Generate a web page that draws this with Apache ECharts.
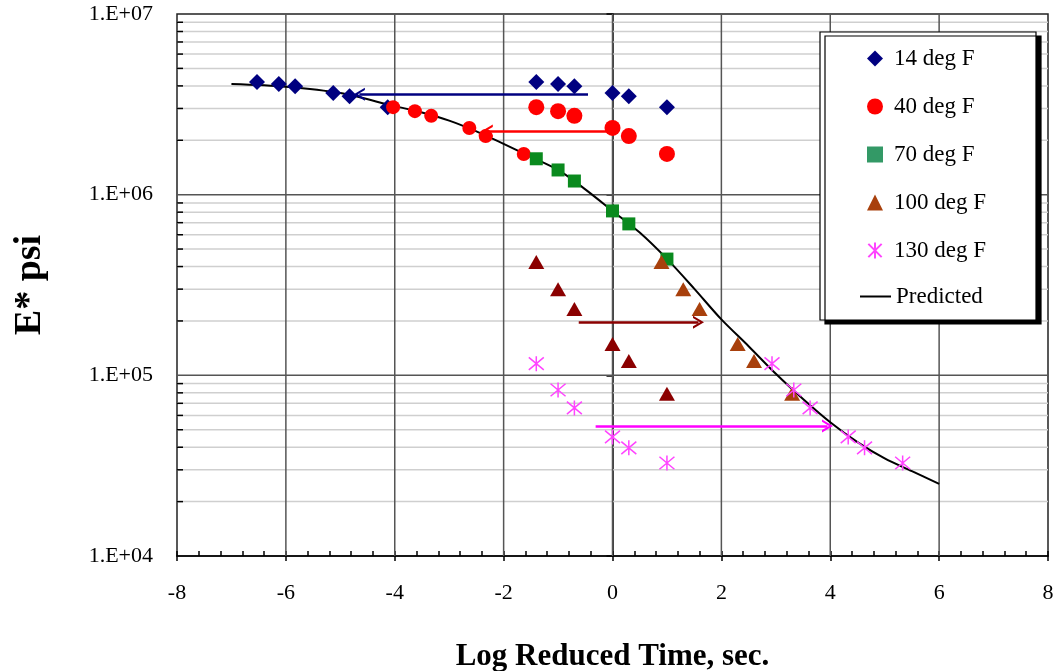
<!DOCTYPE html>
<html>
<head>
<meta charset="utf-8">
<script src="https://cdn.jsdelivr.net/npm/echarts@6/dist/echarts.min.js"></script>
<style>html,body{margin:0;padding:0;background:#fff}#c{width:1057px;height:671px}</style>
</head>
<body>
<div id="c"></div>
<script>
// ---- data ----
const timeLog = [-1.4, -1.0, -0.7, 0.0, 0.3, 1.0];          // unshifted log time
const x14s = [-6.53, -6.13, -5.83, -5.13, -4.83, -4.13];   // shifted
const x40s = [-4.03, -3.63, -3.33, -2.63, -2.33, -1.63];
const x100s = [0.9, 1.3, 1.6, 2.3, 2.6, 3.3];
const x130s = [2.93, 3.33, 3.63, 4.33, 4.63, 5.33];

const e14 = [4.2e6, 4.1e6, 3.98e6, 3.65e6, 3.5e6, 3.05e6];
const e40 = [3.05e6, 2.9e6, 2.73e6, 2.34e6, 2.11e6, 1.68e6];
const e70 = [1.58e6, 1.37e6, 1.19e6, 8.13e5, 6.89e5, 4.4e5];
const e100 = [4.24e5, 3.0e5, 2.33e5, 1.49e5, 1.2e5, 7.9e4];
const e130 = [1.16e5, 8.3e4, 6.6e4, 4.56e4, 3.97e4, 3.27e4];

const predX = [-7, -6, -5, -4, -3.5, -3, -2.5, -2, -1.5, -1, -0.5, 0, 0.5, 1, 1.5, 2, 2.5, 3, 3.5, 4, 4.5, 5, 5.5, 6];
const predE = [4.10e6, 3.96e6, 3.65e6, 3.09e6, 2.85e6, 2.57e6, 2.24e6, 1.91e6, 1.62e6, 1.37e6, 1.07e6, 8.13e5, 6.17e5, 4.41e5, 3.02e5, 2.04e5, 1.45e5, 1.02e5, 7.4e4, 5.5e4, 4.27e4, 3.47e4, 2.95e4, 2.51e4];

const arrow14 = [[-0.45, 3.6e6], [-4.65, 3.6e6]];
const arrow40 = [[0.0, 2.25e6], [-2.3, 2.25e6]];
const arrow100 = [[-0.62, 1.97e5], [1.58, 1.97e5]];
const arrow130 = [[-0.31, 5.25e4], [3.95, 5.25e4]];

const legendNames = ['14 deg F', '40 deg F', '70 deg F', '100 deg F', '130 deg F', 'Predicted'];
const yTickLabels = {4: '1.E+04', 5: '1.E+05', 6: '1.E+06', 7: '1.E+07'};
const decades = [1e4, 1e5, 1e6];
const multiples = [2, 3, 4, 5, 6, 7, 8, 9];
const xMajor = [-6, -4, -2, 0, 2, 4, 6];

// ---- helpers ----
const zip = (xs, ys) => xs.map((x, i) => [x, ys[i]]);
const minorY = [];
decades.forEach(d => multiples.forEach(m => minorY.push(d * m)));
const gridItems = [];
minorY.forEach(v => gridItems.push({k: 'h', v}));
xMajor.forEach(v => gridItems.push({k: 'v', v}));
[1e5, 1e6].forEach(v => gridItems.push({k: 'H', v}));

const SERIF = 'Liberation Serif';
const chevron = 'path://M5,0 L10,10 L8.2,10 L5,3.6 L1.8,10 L0,10 Z';
const asterisk = 'path://M0,0 L10,10 M10,0 L0,10 M5,-1 L5,11';

function arrowLine(pts, color, w) {
  return {
    silent: true,
    symbol: ['none', chevron],
    symbolSize: [13, 11],
    lineStyle: {color: color, width: w, type: 'solid', opacity: 1},
    label: {show: false},
    emphasis: {disabled: true},
    data: [[{coord: pts[0]}, {coord: pts[1]}]]
  };
}

const legendText = {fontFamily: SERIF, fontSize: 23, color: '#000', lineHeight: 21};

const chart = echarts.init(document.getElementById('c'));
chart.setOption({
  animation: false,
  backgroundColor: '#ffffff',
  grid: {left: 177, right: 9, top: 14, bottom: 115, show: true, borderColor: '#222', borderWidth: 1.5,
    backgroundColor: 'transparent', outerBoundsMode: 'none', containLabel: false},
  xAxis: [{
    type: 'value', min: -8, max: 8, interval: 2,
    name: 'Log Reduced Time, sec.', nameLocation: 'middle', nameGap: 85,
    nameTextStyle: {fontFamily: SERIF, fontWeight: 'bold', fontSize: 31, color: '#000'},
    axisLine: {show: true, lineStyle: {color: '#000', width: 1.5}},
    axisTick: {show: true, inside: false, length: 5, lineStyle: {color: '#000', width: 1.5}},
    axisLabel: {fontFamily: SERIF, fontSize: 22, color: '#000', margin: 26},
    splitLine: {show: false}
  }, {
    type: 'value', min: -8, max: 8, interval: 2, position: 'bottom', offset: 0,
    axisLine: {show: false},
    axisTick: {show: true, inside: true, length: 5, lineStyle: {color: '#000', width: 1.5}},
    minorTick: {show: true, splitNumber: 5, length: 5, lineStyle: {color: '#000', width: 1.5}},
    axisLabel: {show: false},
    splitLine: {show: false}
  }],
  yAxis: {
    type: 'log', logBase: 10, min: 1e4, max: 1e7, interval: 1,
    name: 'E* psi', nameLocation: 'middle', nameGap: 128,
    nameTextStyle: {fontFamily: SERIF, fontWeight: 'bold', fontSize: 38, color: '#000'},
    axisLine: {show: true, lineStyle: {color: '#000', width: 1.5}},
    axisTick: {show: true, inside: false, length: 6, lineStyle: {color: '#000', width: 1.5}},
    minorTick: {show: false},
    axisLabel: {fontFamily: SERIF, fontSize: 22, color: '#000', margin: 24,
      formatter: v => yTickLabels[Math.round(Math.log10(v))] || ''},
    splitLine: {show: false}
  },
  legend: [{
    orient: 'vertical', left: 820, top: 32, z: 4,
    data: [
      {name: legendNames[0]}, {name: legendNames[1]},
      {name: legendNames[2], itemStyle: {color: '#339966'}},
      {name: legendNames[3]}, {name: legendNames[4]}
    ],
    itemWidth: 16, itemHeight: 16, itemGap: 25,
    padding: [15, 50, 58, 47],
    textStyle: Object.assign({padding: [0, 0, 0, 6]}, legendText),
    backgroundColor: '#fff', borderColor: '#000', borderWidth: 1.2,
    shadowColor: '#000', shadowBlur: 0, shadowOffsetX: 5, shadowOffsetY: 4,
    selectedMode: false
  }, {
    orient: 'vertical', left: 859, top: 285, z: 6,
    data: [{name: legendNames[5], itemStyle: {color: 'rgba(0,0,0,0)', borderWidth: 0}}],
    itemWidth: 31, itemHeight: 14, padding: 0,
    textStyle: legendText,
    selectedMode: false
  }],
  series: [
    {
      name: 'grid', type: 'custom', silent: true, z: 1,
      data: gridItems.map((g, i) => [i]),
      encode: {x: -1, y: -1},
      renderItem: (params, api) => {
        const g = gridItems[params.dataIndex];
        let a, b, stroke, lw;
        if (g.k === 'v') { a = api.coord([g.v, 1e4]); b = api.coord([g.v, 1e7]); stroke = '#555'; lw = 1.5; }
        else if (g.k === 'H') { a = api.coord([-8, g.v]); b = api.coord([8, g.v]); stroke = '#555'; lw = 1.5; }
        else { a = api.coord([-8, g.v]); b = api.coord([8, g.v]); stroke = '#cfcfcf'; lw = 1.5; }
        const children = [{type: 'line', shape: {x1: a[0], y1: a[1], x2: b[0], y2: b[1]}, style: {stroke, lineWidth: lw}}];
        if (g.k === 'h') {
          children.push({type: 'line', shape: {x1: a[0], y1: a[1], x2: a[0] + 6, y2: a[1]}, style: {stroke: '#000', lineWidth: 1.5}});
        }
        return {type: 'group', children};
      }
    },
    {
      name: 'Predicted', type: 'line', data: zip(predX, predE), smooth: 0.3,
      symbol: 'none', showSymbol: false, z: 3,
      lineStyle: {color: '#000', width: 2}, itemStyle: {color: '#000'}
    },
    {
      name: '14 deg F (unshifted)', type: 'scatter', data: zip(timeLog, e14), z: 4,
      symbol: 'diamond', symbolSize: 16, itemStyle: {color: '#000080', opacity: 1},
      markLine: arrowLine(arrow14, '#000080', 2.5)
    },
    {
      name: '14 deg F', type: 'scatter', data: zip(x14s, e14), z: 4,
      symbol: 'diamond', symbolSize: 16, itemStyle: {color: '#000080', opacity: 1}
    },
    {
      name: '40 deg F (unshifted)', type: 'scatter', data: zip(timeLog, e40), z: 4,
      symbol: 'circle', symbolSize: 16, itemStyle: {color: '#ff0000', opacity: 1},
      markLine: arrowLine(arrow40, '#ff0000', 2.5)
    },
    {
      name: '40 deg F', type: 'scatter', data: zip(x40s, e40), z: 4,
      symbol: 'circle', symbolSize: 14, itemStyle: {color: '#ff0000', opacity: 1}
    },
    {
      name: '70 deg F', type: 'scatter', data: zip(timeLog, e70), z: 4,
      symbol: 'rect', symbolSize: 13, itemStyle: {color: '#0a8a1e', opacity: 1}
    },
    {
      name: '100 deg F (unshifted)', type: 'scatter', data: zip(timeLog, e100), z: 4,
      symbol: 'triangle', symbolSize: [16, 14], itemStyle: {color: '#8b0000', opacity: 1},
      markLine: arrowLine(arrow100, '#8b0000', 2.5)
    },
    {
      name: '100 deg F', type: 'scatter', data: zip(x100s, e100), z: 4,
      symbol: 'triangle', symbolSize: [16, 14], itemStyle: {color: '#a8400c', opacity: 1}
    },
    {
      name: '130 deg F (unshifted)', type: 'scatter', data: zip(timeLog, e130), z: 4,
      symbol: asterisk, symbolSize: 15,
      itemStyle: {color: '#ff44ff', borderColor: '#ff44ff', borderWidth: 1.5, opacity: 1},
      markLine: arrowLine(arrow130, '#ff00ff', 2.5)
    },
    {
      name: '130 deg F', type: 'scatter', data: zip(x130s, e130), z: 4,
      symbol: asterisk, symbolSize: 15,
      itemStyle: {color: '#ff44ff', borderColor: '#ff44ff', borderWidth: 1.5, opacity: 1}
    }
  ]
});
</script>
</body>
</html>
